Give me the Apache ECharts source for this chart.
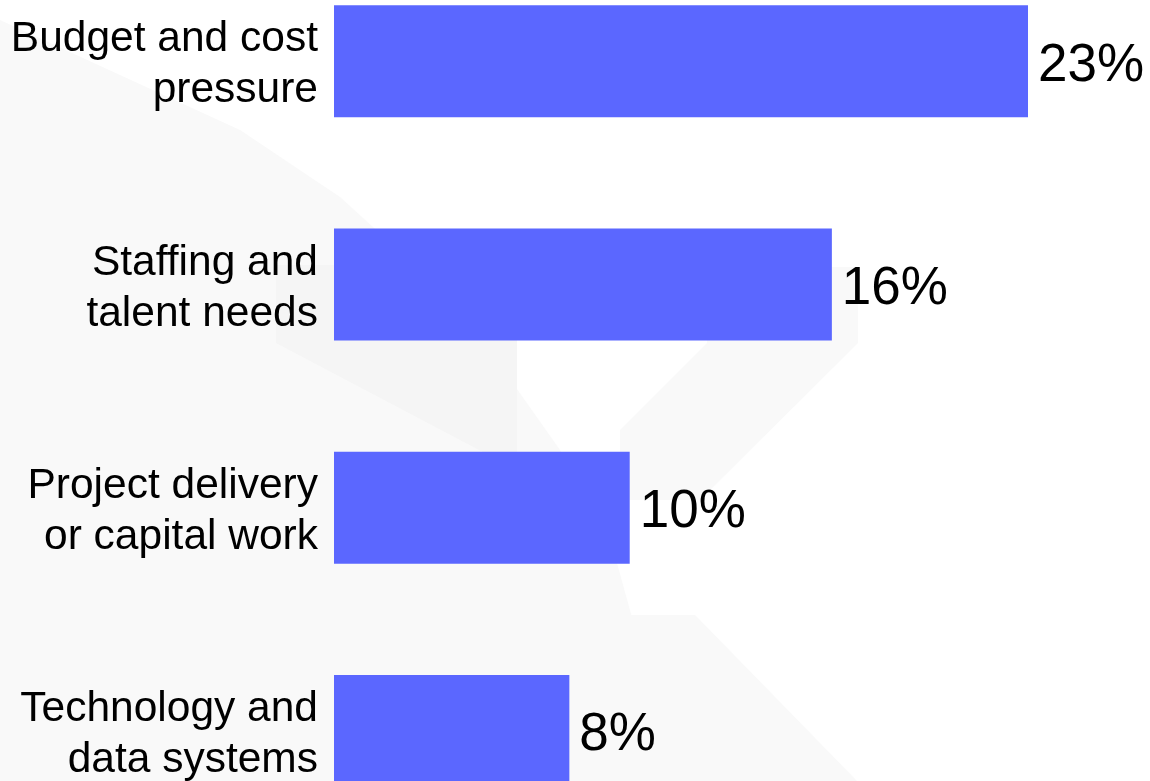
<!DOCTYPE html>
<html>
<head>
<meta charset="utf-8">
<script src="https://cdn.jsdelivr.net/npm/echarts@6/dist/echarts.min.js"></script>
<style>
  html, body { margin: 0; padding: 0; background: #fff; }
  #chart { width: 1150px; height: 781px; }
</style>
</head>
<body>
<div id="chart"></div>
<script>
const categories = [
    'Budget and cost\npressure',
    'Staffing and\ntalent needs',
    'Project delivery\nor capital work',
    'Technology and\ndata systems'
];
const values = [23, 16.5, 9.8, 7.8];
const valueLabels = ['23%', '16%', '10%', '8%'];

const chart = echarts.init(document.getElementById('chart'));

// faint watermark shapes behind the chart
const pale = '#f9f9f9';
const darker = '#f5f5f5';
const poly = (points, fill) => ({
    type: 'polygon',
    z: -10,
    silent: true,
    shape: { points },
    style: { fill }
});

chart.setOption({
    backgroundColor: '#ffffff',
    graphic: [
        poly([[0, 20], [240, 130], [340, 197], [420, 270], [500, 365], [560, 450], [617, 563], [677, 781], [0, 781]], pale),
        poly([[276, 265], [517, 265], [517, 470], [276, 343]], darker),
        poly([[707, 267], [858, 267], [858, 343], [700, 500], [620, 500], [620, 430], [707, 343]], pale),
        poly([[618, 615], [695, 615], [857, 781], [677, 781], [618, 693]], pale)
    ],
    grid: {
        left: 334,
        top: -50.5,
        width: 694,
        height: 893,
        containLabel: false,
        outerBoundsMode: 'none'
    },
    xAxis: {
        type: 'value',
        min: 0,
        max: 23,
        show: false
    },
    yAxis: {
        type: 'category',
        data: categories,
        inverse: true,
        axisLine: { show: false },
        axisTick: { show: false },
        splitLine: { show: false },
        axisLabel: {
            margin: 16,
            formatter: v => '{t|' + v.split('\n').join('}\n{t|') + '}',
            rich: {
                t: {
                    fontFamily: 'Liberation Sans',
                    fontSize: 42.5,
                    lineHeight: 51,
                    color: '#000',
                    align: 'right'
                }
            },
            padding: [8, 0, 0, 0],
            align: 'right'
        }
    },
    series: [
        {
            type: 'bar',
            data: values,
            barWidth: 112,
            itemStyle: { color: '#5b67ff' },
            label: {
                show: true,
                position: 'right',
                distance: 10,
                offset: [0, 5],
                fontFamily: 'Liberation Sans',
                fontSize: 53,
                color: '#000',
                formatter: p => valueLabels[p.dataIndex]
            },
            silent: true
        }
    ],
    animation: false
});
</script>
</body>
</html>
